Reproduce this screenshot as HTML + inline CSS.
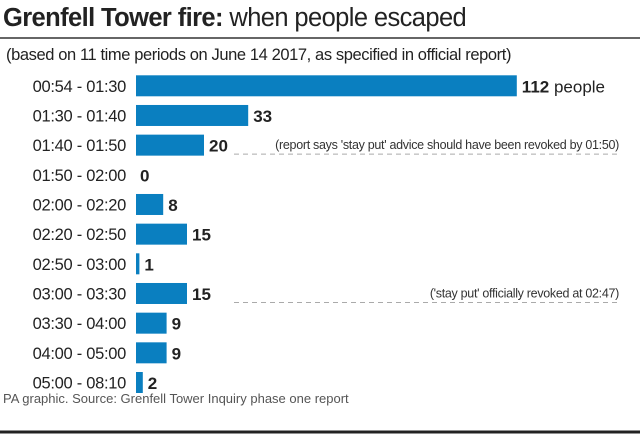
<!DOCTYPE html>
<html><head><meta charset="utf-8"><style>
html,body{margin:0;padding:0;background:#fff;}
body{width:640px;height:434px;overflow:hidden;font-family:"Liberation Sans",sans-serif;}
</style></head><body>
<svg width="640" height="434" xmlns="http://www.w3.org/2000/svg">
<text x="3" y="26" font-size="25.5" fill="#222" letter-spacing="-0.6"><tspan font-weight="bold">Grenfell Tower fire:</tspan> when people escaped</text>
<line x1="0" y1="38" x2="640" y2="38" stroke="#333" stroke-width="1.5"/>
<text x="6" y="60" font-size="16.5" fill="#222" letter-spacing="-0.4">(based on 11 time periods on June 14 2017, as specified in official report)</text>
<g id="bars"></g>
<text x="3" y="403" font-size="13" fill="#555">PA graphic. Source: Grenfell Tower Inquiry phase one report</text>
<line x1="0" y1="432" x2="640" y2="432" stroke="#222" stroke-width="3"/>
</svg>
<script>
const categories=["00:54 - 01:30","01:30 - 01:40","01:40 - 01:50","01:50 - 02:00","02:00 - 02:20","02:20 - 02:50","02:50 - 03:00","03:00 - 03:30","03:30 - 04:00","04:00 - 05:00","05:00 - 08:10"];
const values=[112,33,20,0,8,15,1,15,9,9,2];
const notes=[null,null,"(report says 'stay put' advice should have been revoked by 01:50)",null,null,null,null,"('stay put' officially revoked at 02:47)",null,null,null];
const NS="http://www.w3.org/2000/svg";
const x0=136, pxPer=3.4, y0=85.8, step=29.67, bh=21;
const xs=v=>x0+v*pxPer;
const ys=i=>y0+i*step;
const g=document.getElementById('bars');
function mk(t,a){const e=document.createElementNS(NS,t);for(const k in a)e.setAttribute(k,a[k]);g.appendChild(e);return e;}
categories.forEach((c,i)=>{
  const cy=ys(i);
  const l=mk('text',{x:126,y:cy+6,'font-size':16.5,'text-anchor':'end',fill:'#222','letter-spacing':'-0.3'});
  
  
  l.textContent=c;
  const w=xs(values[i])-x0;
  const r=mk('rect',{x:x0,y:cy-bh/2,width:w,height:bh,fill:'#0a7fc0'});
  
  
  const v=mk('text',{x:xs(values[i])+(values[i]>0?5:4),y:cy+6.5,'font-size':17,'font-weight':'bold',fill:'#222'});
  
  
  v.textContent=values[i];
  if(i===0){const p=document.createElementNS(NS,'tspan');p.setAttribute('font-weight','normal');p.textContent=' people';v.appendChild(p);}
  if(notes[i]){
    const d=mk('line',{x1:234,y1:cy+9,x2:619,y2:cy+9,stroke:'#aaa','stroke-width':1,'stroke-dasharray':'5,4'});
    
    
    const n=mk('text',{x:619,y:cy+4,'font-size':12.5,'text-anchor':'end',fill:'#333','letter-spacing':'-0.3'});
    
    
    n.textContent=notes[i];
  }
});
</script>
</body></html>
